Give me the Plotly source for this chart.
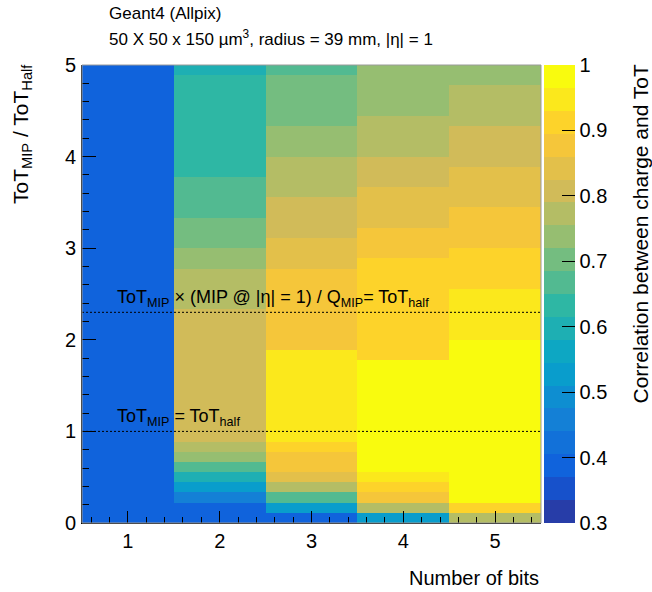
import plotly.graph_objects as go

# ---------------- data ----------------
n_bits = [1, 2, 3, 4, 5]
y_edges_n = 45          # bins of width 5/45 on ToT_MIP/ToT_Half axis
y_min, y_max = 0.0, 5.0

# correlation between charge and ToT, per column (bottom row first)
corr_1bit = [0.39] * 45
corr_2bit = [0.39, 0.39, 0.46, 0.53, 0.60, 0.67, 0.74, 0.77,
             0.81, 0.81, 0.81, 0.81, 0.81, 0.81, 0.81, 0.81, 0.81, 0.81, 0.81, 0.81, 0.81,
             0.77, 0.77, 0.77, 0.77, 0.74, 0.74, 0.70, 0.70, 0.70,
             0.67, 0.67, 0.67, 0.67,
             0.63, 0.63, 0.63, 0.63, 0.63, 0.63, 0.63, 0.63, 0.63, 0.63, 0.60]
corr_3bit = [0.39, 0.53, 0.67, 0.77, 0.84, 0.88, 0.88, 0.91,
             0.95, 0.95, 0.95, 0.95, 0.95, 0.95, 0.95, 0.95, 0.95,
             0.88, 0.88, 0.88, 0.88, 0.88, 0.88, 0.88, 0.88,
             0.84, 0.84, 0.84, 0.81, 0.81, 0.81, 0.81,
             0.77, 0.77, 0.77, 0.77, 0.74, 0.74, 0.74,
             0.70, 0.70, 0.70, 0.70, 0.70, 0.67]
corr_4bit = [0.53, 0.77, 0.88, 0.91, 0.95,
             0.98, 0.98, 0.98, 0.98, 0.98, 0.98, 0.98, 0.98, 0.98, 0.98, 0.98,
             0.91, 0.91, 0.91, 0.91, 0.91, 0.91, 0.91, 0.91, 0.91, 0.91,
             0.88, 0.88, 0.88, 0.84, 0.84, 0.84, 0.84,
             0.81, 0.81, 0.81, 0.77, 0.77, 0.77, 0.77,
             0.74, 0.74, 0.74, 0.74, 0.74]
corr_5bit = [0.77, 0.91,
             0.98, 0.98, 0.98, 0.98, 0.98, 0.98, 0.98, 0.98,
             0.98, 0.98, 0.98, 0.98, 0.98, 0.98, 0.98, 0.98,
             0.95, 0.95, 0.95, 0.95, 0.95,
             0.91, 0.91, 0.91, 0.91, 0.88, 0.88, 0.88, 0.88,
             0.84, 0.84, 0.84, 0.84, 0.81, 0.81, 0.81, 0.81,
             0.77, 0.77, 0.77, 0.77, 0.74, 0.74]

z_min, z_max, n_levels = 0.3, 1.0, 20
ref_lines = [1.0, 2.3]
x_ticks = [1, 2, 3, 4, 5]
y_ticks = [0, 1, 2, 3, 4, 5]
cb_ticks = [0.3, 0.4, 0.5, 0.6, 0.7, 0.8, 0.9, 1.0]
cb_ticktext = ["0.3", "0.4", "0.5", "0.6", "0.7", "0.8", "0.9", "1"]

# ---------------- kBird palette (ROOT) ----------------
stops = [0.0, 0.125, 0.25, 0.375, 0.5, 0.625, 0.75, 0.875, 1.0]
red = [0.2082, 0.0592, 0.0780, 0.0232, 0.1802, 0.5301, 0.8186, 0.9956, 0.9764]
green = [0.1664, 0.3599, 0.5041, 0.6419, 0.7178, 0.7492, 0.7328, 0.7862, 0.9832]
blue = [0.5293, 0.8684, 0.8385, 0.7914, 0.6425, 0.4662, 0.3499, 0.1968, 0.0539]


def bird(p):
    for i in range(len(stops) - 1):
        if stops[i] <= p <= stops[i + 1]:
            t = (p - stops[i]) / (stops[i + 1] - stops[i])
            r = red[i] + t * (red[i + 1] - red[i])
            g = green[i] + t * (green[i + 1] - green[i])
            b = blue[i] + t * (blue[i + 1] - blue[i])
            return "rgb(%d,%d,%d)" % (round(r * 255), round(g * 255), round(b * 255))
    return "rgb(249,251,14)"


colorscale = []
for k in range(n_levels):
    idx = int((k + 0.99) * 255 / n_levels)
    c = bird(idx / 254.0)
    colorscale.append([k / n_levels, c])
    colorscale.append([(k + 1) / n_levels, c])

columns = [corr_1bit, corr_2bit, corr_3bit, corr_4bit, corr_5bit]
dy = (y_max - y_min) / y_edges_n
y_centers = [y_min + (j + 0.5) * dy for j in range(y_edges_n)]
z = [[col[j] for col in columns] for j in range(y_edges_n)]

FONT = "Liberation Sans, Arial, Helvetica, sans-serif"
L, R, T, B = 82, 111, 65, 69
W, H = 652, 592
PW, PH = W - L - R, H - T - B


def px_x(px):
    return (px - L) / PW


def px_y(py):
    return (H - B - py) / PH


fig = go.Figure()
fig.add_trace(go.Heatmap(
    x=n_bits, y=y_centers, z=z, zmin=z_min, zmax=z_max,
    colorscale=colorscale, zsmooth=False, hoverinfo="skip",
    colorbar=dict(
        x=px_x(544), xanchor="left", xpad=0, y=0.5, yanchor="middle",
        len=1.0, lenmode="fraction", thickness=31, ypad=0,
        outlinewidth=0, tickmode="array", tickvals=cb_ticks, ticktext=cb_ticktext,
        ticks="inside", ticklen=13, tickcolor="black", tickwidth=1,
        tickfont=dict(family=FONT, size=20, color="black"),
    ),
))

for yl in ref_lines:
    fig.add_shape(type="line", xref="x", yref="y", x0=0.5, x1=5.5, y0=yl, y1=yl,
                  line=dict(color="black", width=1, dash="2px,2px"), layer="above")

fig.add_shape(type="rect", xref="paper", yref="paper", x0=0, x1=1, y0=0, y1=1,
              line=dict(color="#9a9a9a", width=1), layer="above")

fig.update_xaxes(range=[0.5, 5.5], tickvals=x_ticks, ticks="inside", ticklen=12,
                 tickcolor="black", showline=True, linecolor="black", linewidth=1,
                 showgrid=False, zeroline=False,
                 tickfont=dict(family=FONT, size=20, color="black"),
                 minor=dict(ticks="inside", ticklen=6, dtick=0.2, tick0=0, tickcolor="black",
                            showgrid=False))
fig.update_yaxes(range=[0, 5], tickvals=y_ticks, ticks="inside", ticklen=14,
                 tickcolor="black", showline=True, linecolor="black", linewidth=1,
                 showgrid=False, zeroline=False, ticklabelstandoff=1,
                 tickfont=dict(family=FONT, size=20, color="black"),
                 minor=dict(ticks="inside", ticklen=7, dtick=0.2, tick0=0, tickcolor="black",
                            showgrid=False))

fig.add_annotation(text="Geant4 (Allpix)", xref="paper", yref="paper",
                   x=px_x(107), y=px_y(14), xanchor="left", yanchor="middle", showarrow=False,
                   font=dict(family=FONT, size=17, color="black"))
fig.add_annotation(text="50 X 50 x 150 \u00b5m<sup>3</sup>, radius = 39 mm, |\u03b7| = 1",
                   xref="paper", yref="paper",
                   x=px_x(107), y=px_y(38), xanchor="left", yanchor="middle", showarrow=False,
                   font=dict(family=FONT, size=17, color="black"))

fig.add_annotation(text="ToT<sub>MIP</sub> \u00d7 (MIP @ |\u03b7| = 1) / Q<sub>MIP</sub>= ToT<sub>half</sub>",
                   xref="x", yref="y", x=0.86, y=2.3, xanchor="left", yanchor="bottom",
                   yshift=0, showarrow=False, font=dict(family=FONT, size=18, color="black"))
fig.add_annotation(text="ToT<sub>MIP</sub> = ToT<sub>half</sub>",
                   xref="x", yref="y", x=0.86, y=1.0, xanchor="left", yanchor="bottom",
                   yshift=0, showarrow=False, font=dict(family=FONT, size=18, color="black"))

fig.add_annotation(text="ToT<sub>MIP</sub> / ToT<sub>Half</sub>", textangle=-90,
                   xref="paper", yref="paper", x=px_x(22), y=px_y(62),
                   xanchor="center", yanchor="top", showarrow=False,
                   font=dict(family=FONT, size=21, color="black"))
fig.add_annotation(text="Number of bits", xref="paper", yref="paper",
                   x=px_x(541), y=px_y(578), xanchor="right", yanchor="middle",
                   showarrow=False, font=dict(family=FONT, size=20, color="black"))
fig.add_annotation(text="Correlation between charge and ToT", textangle=-90,
                   xref="paper", yref="paper", x=px_x(640), y=px_y(63),
                   xanchor="center", yanchor="top", showarrow=False,
                   font=dict(family=FONT, size=21, color="black"))

fig.update_layout(
    width=W, height=H,
    margin=dict(l=L, r=R, t=T, b=B),
    paper_bgcolor="white", plot_bgcolor="white",
    showlegend=False,
    font=dict(family=FONT, size=20, color="black"),
)

fig.write_html("out.html", config={"displayModeBar": False},
               post_script="document.body.style.margin='0';document.body.style.overflow='hidden';")
